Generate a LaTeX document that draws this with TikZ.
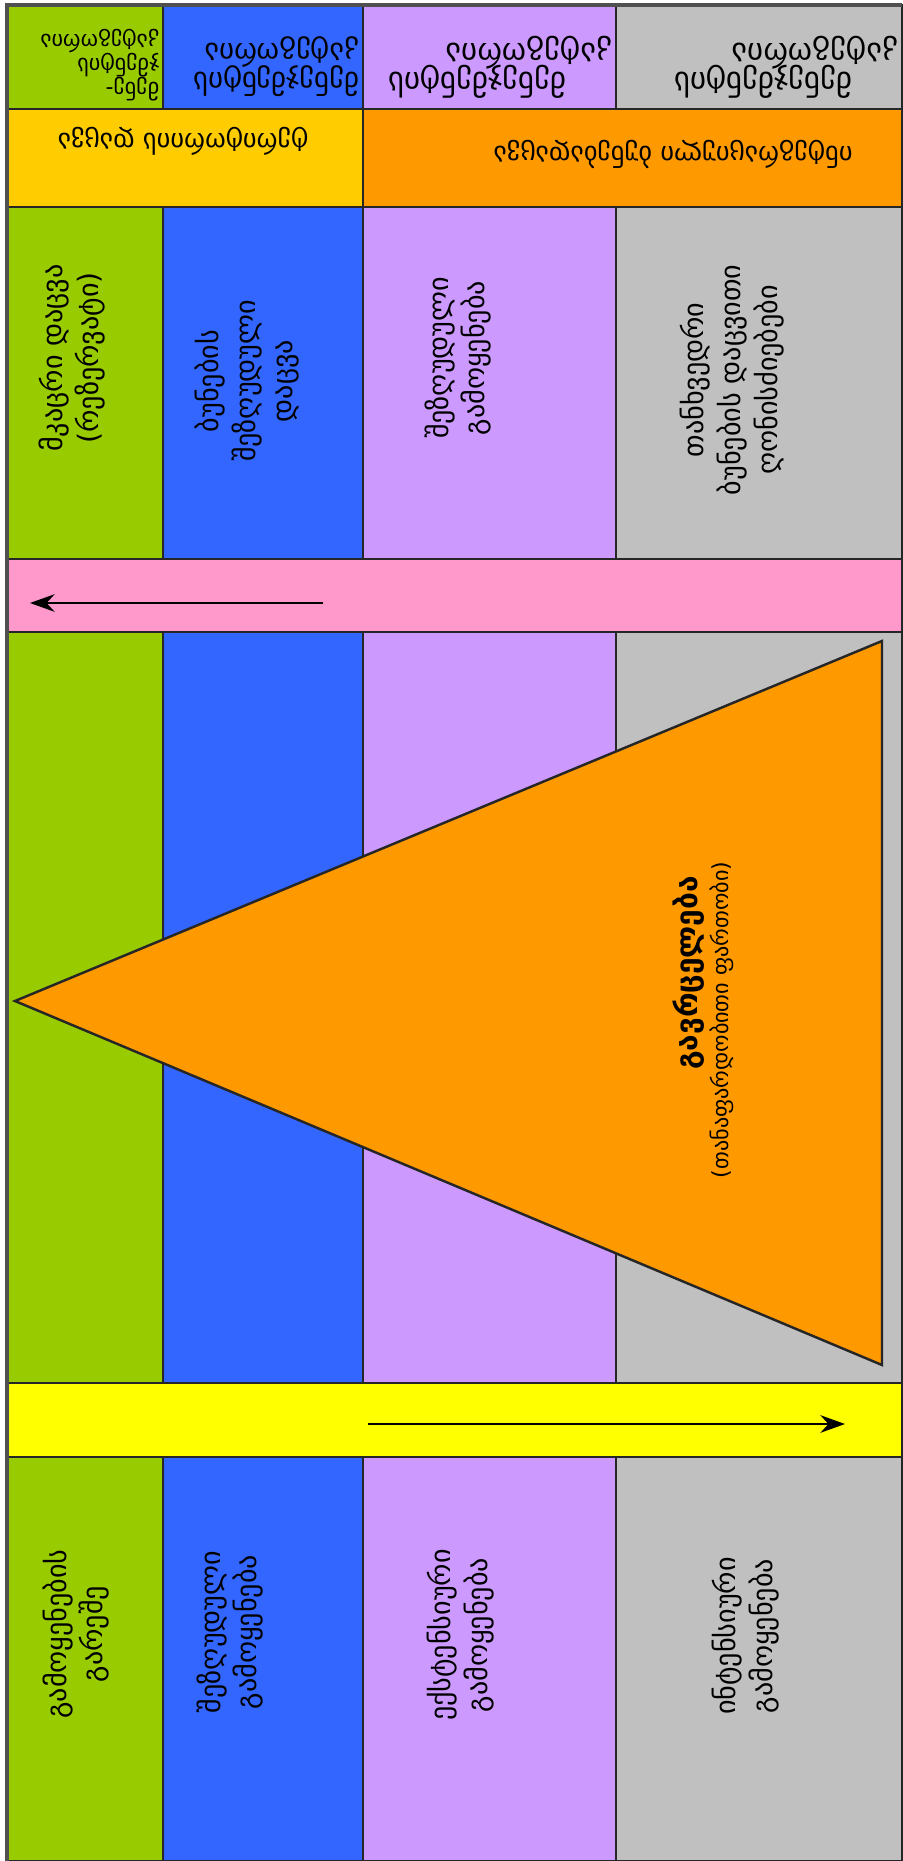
\documentclass[tikz,border=0pt]{standalone}
\usepackage{fontspec}
\setmainfont{DejaVu Sans}
\usetikzlibrary{arrows.meta,positioning}

\definecolor{catgreen}{HTML}{99CC00}
\definecolor{catblue}{HTML}{3366FF}
\definecolor{catviolet}{HTML}{CC99FF}
\definecolor{catgrey}{HTML}{C0C0C0}
\definecolor{hdrgold}{HTML}{FFCC00}
\definecolor{hdrorange}{HTML}{FF9900}
\definecolor{bandpink}{HTML}{FF99CC}
\definecolor{bandyellow}{HTML}{FFFF00}
\definecolor{framegrey}{HTML}{505050}

\begin{document}
\begin{tikzpicture}[
  x=0.01cm, y=-0.01cm,
  >=Stealth,
  cell/.style={draw=black!85, line width=0.5pt},
  body/.style={rotate=90, align=center, inner sep=0pt, font=\fontsize{8}{10.5}\selectfont},
  head/.style={rotate=180, align=left, anchor=west, inner sep=0pt, font=\fontsize{8.2}{8.2}\selectfont,
    execute at begin node={\lineskiplimit=-100pt\relax}},
  widehead/.style={head, font=\fontsize{8.8}{8.2}\selectfont},
  band/.style={rotate=180, inner sep=0pt, font=\fontsize{7.5}{9}\selectfont},
  flow/.style={->, line width=0.6pt, >={Stealth[length=7pt, width=5pt]}}
]
\useasboundingbox (0,0) rectangle (902,1861);

% column colours, one row band at a time
\foreach \ya/\yb in {5/109, 207/559, 632/1383, 1457/1861} {
  \filldraw[cell, fill=catgreen]  (7,\ya)   rectangle (163,\yb);
  \filldraw[cell, fill=catblue]   (163,\ya) rectangle (363,\yb);
  \filldraw[cell, fill=catviolet] (363,\ya) rectangle (616,\yb);
  \filldraw[cell, fill=catgrey]   (616,\ya) rectangle (902,\yb);
}

% second header row
\filldraw[cell, fill=hdrgold]   (7,109)   rectangle (363,207);
\filldraw[cell, fill=hdrorange] (363,109) rectangle (902,207);

% arrow bands
\filldraw[cell, fill=bandpink]   (7,559)  rectangle (902,632);
\filldraw[cell, fill=bandyellow] (7,1383) rectangle (902,1457);

% extent triangle
\filldraw[cell, fill=hdrorange, line width=0.7pt] (15,1001) -- (882,641) -- (882,1365) -- cycle;

% outer frame
\draw[framegrey, line width=1pt] (7,1861) -- (7,5) -- (902,5);

% headers (upside down)
\node[head, font=\fontsize{6.3}{6.8}\selectfont] (hgreen) at (160,65) {მენე-\\ჯმენტის\\კატეგორია};
\node[head]     (hblue)   at (360,67) {მენეჯმენტის\\კატეგორია};
\node[widehead] (hviolet) at (613,67) {\hspace*{13pt}მენეჯმენტის\\კატეგორია};
\node[widehead] (hgrey)   at (899,67) {\hspace*{13pt}მენეჯმენტის\\კატეგორია};

\node[band] (segreg) at (183,141) {ტერიტორიის დაცვა};
\node[band] (integr) at (673,154) {ინტეგრაციული ბუნებადაცვა};

% upper row
\node[body] (strict)   at (72,358)  {მკაცრი დაცვა\\(რეზერვატი)};
\node[body] (limited)  at (247,381) {ბუნების\\შეზღუდული\\დაცვა};
\node[body] (restrict) at (458,358) {შეზღუდული\\გამოყენება};
\node[body] (measures) at (732,380) {თანხვედრი\\ბუნების დაცვითი\\ღონისძიებები};

% triangle label
\node[body, font=\fontsize{8.5}{10}\selectfont\bfseries] (extent) at (689,973) {გავრცელება};
\node[body, font=\fontsize{6.3}{8}\selectfont] (extentnote) at (722,1020) {(თანაფარდობითი ფართობი)};

% lower row
\node[body] (nouse)  at (76,1634)  {გამოყენების\\გარეშე};
\node[body] (limuse) at (230,1632) {შეზღუდული\\გამოყენება};
\node[body] (extuse) at (461,1635) {ექსტენსიური\\გამოყენება};
\node[body] (intuse) at (746,1636) {ინტენსიური\\გამოყენება};

% arrows
\coordinate (natstart) at (323,603);
\coordinate (natend)   at (30,603);
\draw[flow] (natstart) -- (natend);
\coordinate (usestart) at (368,1424);
\coordinate (useend)   at (845,1424);
\draw[flow] (usestart) -- (useend);

\end{tikzpicture}
\end{document}
